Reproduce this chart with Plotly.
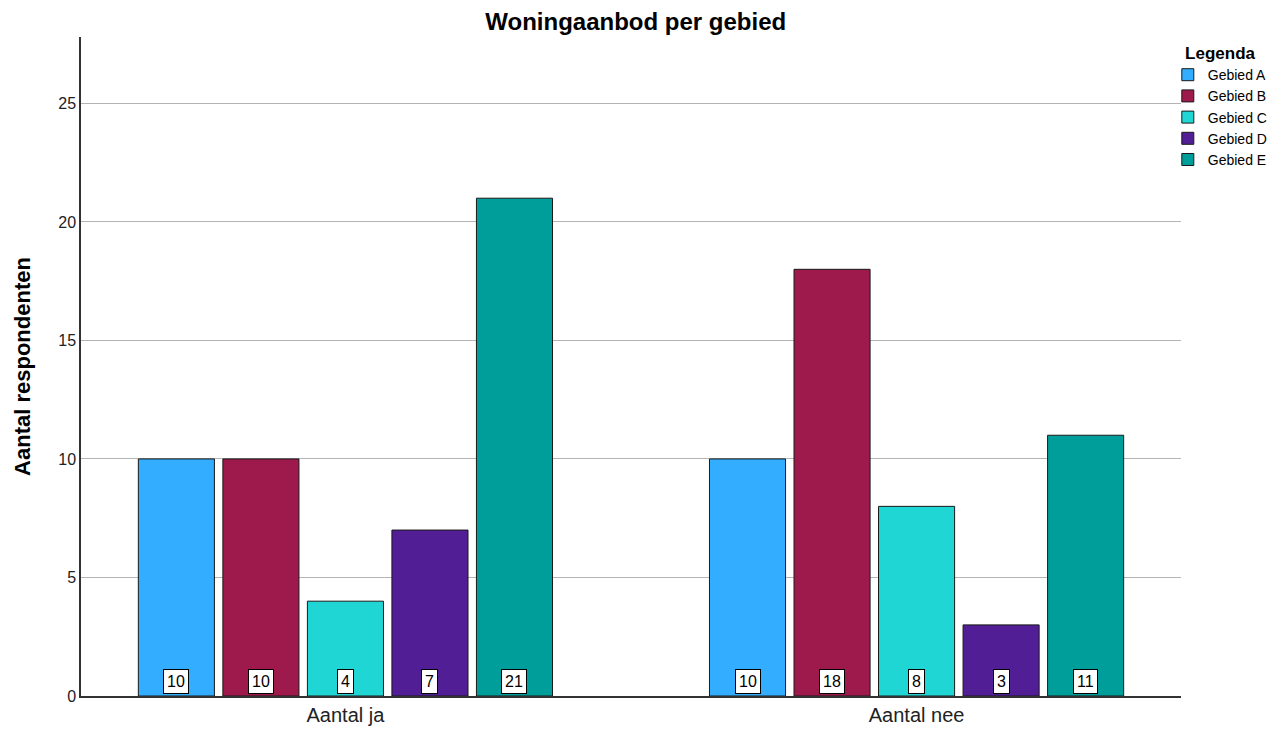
import plotly.graph_objects as go

# Data
categories = ["Aantal ja", "Aantal nee"]
series_names = ["Gebied A", "Gebied B", "Gebied C", "Gebied D", "Gebied E"]
series_values = [
    [10, 10],
    [10, 18],
    [4, 8],
    [7, 3],
    [21, 11],
]
series_colors = ["#33adff", "#9e1a4c", "#20d6d4", "#511e95", "#009e9a"]

FONT = "Arial, Liberation Sans, sans-serif"
BARGAP = 0.26
GROUPGAP = 0.1

fig = go.Figure()
for name, vals, col in zip(series_names, series_values, series_colors):
    fig.add_trace(go.Bar(
        name=name,
        x=list(range(len(categories))),
        y=vals,
        marker=dict(color=col, line=dict(color="#1a1a1a", width=1)),
    ))

# valeurs dans un cadre blanc au pied de chaque barre
n = len(series_names)
slot = (1 - BARGAP) / n
for i, vals in enumerate(series_values):
    for j, v in enumerate(vals):
        fig.add_annotation(
            x=j + (i - (n - 1) / 2) * slot, y=0,
            xref="x", yref="y",
            text=str(v), showarrow=False,
            yanchor="bottom", yshift=2,
            font=dict(family=FONT, size=16, color="black"),
            bgcolor="white", bordercolor="black", borderwidth=1, borderpad=3,
        )

# the page body adds an 8px offset, so the figure is 16px smaller
fig.update_layout(
    width=1263, height=718,
    barmode="group", bargap=BARGAP, bargroupgap=GROUPGAP,
    plot_bgcolor="white", paper_bgcolor="white",
    margin=dict(l=73, r=90, t=29, b=30, autoexpand=False),
    font=dict(family=FONT, color="black"),
    title=dict(text="<b>Woningaanbod per gebied</b>", x=0.497, xanchor="center",
               y=0.9805, yanchor="middle", font=dict(size=24, color="black")),
    legend=dict(
        title=dict(text="<b>Legenda</b>", font=dict(size=17), side="top center"),
        x=0.988, y=1.0, xanchor="left", yanchor="top",
        font=dict(size=14), tracegroupgap=0, itemwidth=30,
        bgcolor="rgba(0,0,0,0)",
    ),
)
fig.update_xaxes(
    tickmode="array", tickvals=list(range(len(categories))), ticktext=categories,
    range=[-0.463, 1.463],
    showline=True, linecolor="#333333", linewidth=1.5,
    showgrid=False, ticks="",
    tickfont=dict(size=20, color="#222222"),
)
fig.update_yaxes(
    range=[0, 27.8], tick0=0, dtick=5,
    showline=True, linecolor="#333333", linewidth=1.5,
    showgrid=True, gridcolor="#b4b4b4", gridwidth=1,
    zeroline=False, ticks="",
    tickfont=dict(size=16, color="#222222"),
    title=dict(text="<b>Aantal respondenten</b>", font=dict(size=22, color="black"), standoff=22),
)

fig.write_html("out.html")
